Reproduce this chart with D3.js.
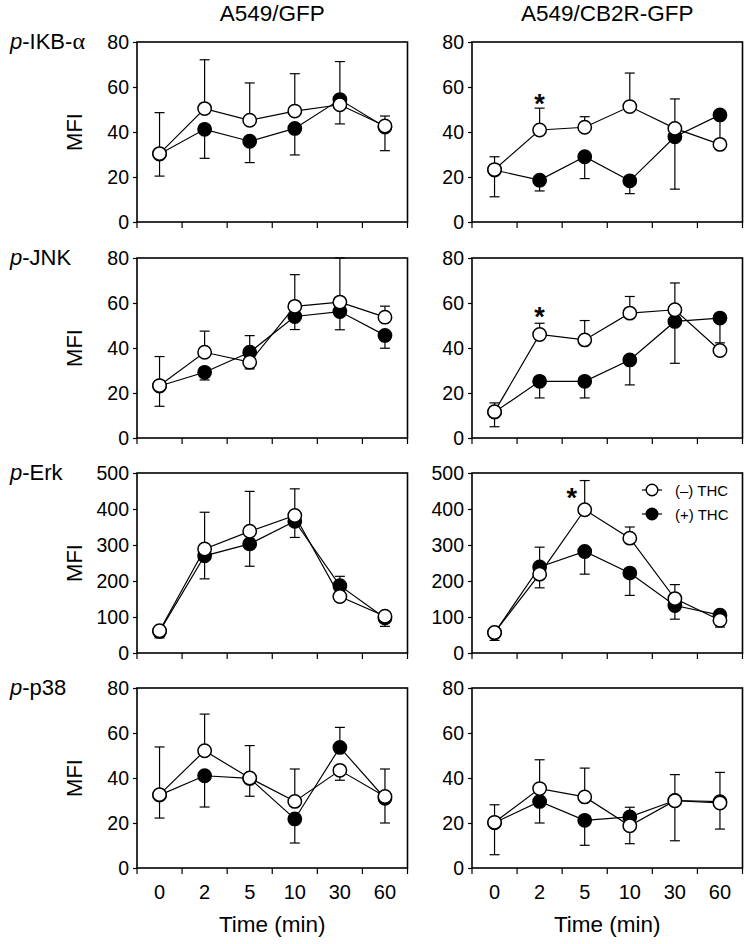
<!DOCTYPE html>
<html>
<head>
<meta charset="utf-8">
<script src="https://cdn.jsdelivr.net/npm/d3@7"></script>
<style>
  html, body { margin: 0; padding: 0; background: #fff; }
  svg { display: block; font-family: Arial, "Liberation Sans", Helvetica, sans-serif; }
</style>
</head>
<body>
<svg id="chart" width="750" height="944"></svg>
<script>
// ---------------- DATA ----------------
const times = ["0", "2", "5", "10", "30", "60"];
const columnTitles = ["A549/GFP", "A549/CB2R-GFP"];
const rowProteins = ["IKB-α", "JNK", "Erk", "p38"];
const rowMax = [80, 80, 500, 80];
const rowTickStep = [20, 20, 100, 20];
const legendLabels = ["(–) THC", "(+) THC"];

// p-IKB-α, A549/GFP
const ikbGfpMinus    = [30.4, 50.4, 45.2, 49.3, 52.1, 42.7];
const ikbGfpMinusBar = [48.6, 72.1, 61.8, 65.9, 43.6, 47.1];
const ikbGfpPlus     = [30.2, 41.2, 35.9, 41.6, 54.4, 42.2];
const ikbGfpPlusBar  = [20.4, 28.3, 26.4, 29.8, 71.3, 31.7];
// p-IKB-α, A549/CB2R-GFP
const ikbCb2Minus    = [23.3, 40.9, 42.1, 51.3, 41.6, 34.5];
const ikbCb2MinusBar = [29.0, 50.6, 46.8, 66.2, 54.7, null];
const ikbCb2Plus     = [23.1, 18.6, 29.0, 18.3, 37.9, 47.6];
const ikbCb2PlusBar  = [11.2, 13.8, 19.3, 12.6, 14.6, 36.0];

// p-JNK, A549/GFP
const jnkGfpMinus    = [23.3, 38.1, 33.7, 58.5, 60.4, 53.7];
const jnkGfpMinusBar = [36.2, 47.5, 30.7, 72.6, 80.0, 58.6];
const jnkGfpPlus     = [23.1, 29.2, 38.1, 54.0, 56.2, 45.6];
const jnkGfpPlusBar  = [14.1, 25.8, 45.5, 48.2, 48.1, 39.9];
// p-JNK, A549/CB2R-GFP
const jnkCb2Minus    = [11.7, 46.0, 43.6, 55.5, 57.0, 38.9];
const jnkCb2MinusBar = [15.6, 51.0, 52.2, 62.9, 68.9, null];
const jnkCb2Plus     = [11.5, 25.2, 25.2, 34.7, 51.8, 53.3];
const jnkCb2PlusBar  = [5.0, 17.8, 17.8, 23.6, 33.2, 42.3];

// p-Erk, A549/GFP
const erkGfpMinus    = [62, 289, 338, 382, 157, 102];
const erkGfpMinusBar = [null, 391, 449, 456, null, null];
const erkGfpPlus     = [60, 270, 303, 366, 187, 97];
const erkGfpPlusBar  = [42, 206, 241, 321, 213, 74];
// p-Erk, A549/CB2R-GFP
const erkCb2Minus    = [57, 219, 398, 319, 151, 91];
const erkCb2MinusBar = [35, 181, 479, 350, 190, 72];
const erkCb2Plus     = [56, 239, 282, 222, 132, 105];
const erkCb2PlusBar  = [null, 294, 219, 160, 94, null];

// p-p38, A549/GFP
const p38GfpMinus    = [32.6, 52.1, 40.0, 29.6, 43.4, 31.8];
const p38GfpMinusBar = [53.8, 68.4, 54.4, 44.0, 39.0, 44.0];
const p38GfpPlus     = [32.4, 41.0, 39.8, 21.8, 53.6, 31.0];
const p38GfpPlusBar  = [22.2, 27.1, 31.9, 11.1, 62.5, 20.0];
// p-p38, A549/CB2R-GFP
const p38Cb2Minus    = [20.3, 35.3, 31.6, 18.8, 29.9, 28.9];
const p38Cb2MinusBar = [28.1, 48.1, 44.4, 10.8, 41.5, 42.5];
const p38Cb2Plus     = [20.1, 29.6, 21.2, 22.7, 30.0, 29.5];
const p38Cb2PlusBar  = [5.9, 20.0, 10.1, 27.0, 12.1, 17.3];

// significance stars: [row, col, time, value at star centre]
const stars = [[0, 1, "2", 55.6], [1, 1, "2", 56.7], [2, 1, "5", 449]];

// ---------------- LAYOUT ----------------
const panels = [
  [[ikbGfpMinus, ikbGfpMinusBar, ikbGfpPlus, ikbGfpPlusBar], [ikbCb2Minus, ikbCb2MinusBar, ikbCb2Plus, ikbCb2PlusBar]],
  [[jnkGfpMinus, jnkGfpMinusBar, jnkGfpPlus, jnkGfpPlusBar], [jnkCb2Minus, jnkCb2MinusBar, jnkCb2Plus, jnkCb2PlusBar]],
  [[erkGfpMinus, erkGfpMinusBar, erkGfpPlus, erkGfpPlusBar], [erkCb2Minus, erkCb2MinusBar, erkCb2Plus, erkCb2PlusBar]],
  [[p38GfpMinus, p38GfpMinusBar, p38GfpPlus, p38GfpPlusBar], [p38Cb2Minus, p38Cb2MinusBar, p38Cb2Plus, p38Cb2PlusBar]]
];

const colX = [137, 472];
const panelW = 270.5;
const rowY = [42, 258, 473, 688];
const panelH = 180;
const R = 6.7;
const capW = 10;

const svg = d3.select("#chart");

// column titles
columnTitles.forEach((t, c) => {
  svg.append("text")
    .attr("x", colX[c] + panelW / 2)
    .attr("y", 21)
    .attr("text-anchor", "middle")
    .attr("font-size", 22.5)
    .text(t);
});

rowProteins.forEach((prot, r) => {
  const y = d3.scaleLinear().domain([0, rowMax[r]]).range([rowY[r] + panelH, rowY[r]]);
  const yTicks = d3.range(0, rowMax[r] + 1, rowTickStep[r]);

  // row label
  const lab = svg.append("text")
    .attr("x", 10)
    .attr("y", rowY[r] + 7)
    .attr("font-size", 22);
  lab.append("tspan").attr("font-style", "italic").text("p");
  if (prot === "IKB-α") {
    lab.append("tspan").text("-IKB-");
    lab.append("tspan").attr("font-family", "'Liberation Serif', 'Times New Roman', serif").attr("font-size", 24).text("α");
  } else {
    lab.append("tspan").text("-" + prot);
  }

  // MFI label
  svg.append("text")
    .attr("transform", `translate(82,${rowY[r] + panelH / 2}) rotate(-90)`)
    .attr("text-anchor", "middle")
    .attr("font-size", 22)
    .text("MFI");

  [0, 1].forEach(c => {
    const [minus, minusBar, plus, plusBar] = panels[r][c];
    const x = d3.scaleBand().domain(times).range([colX[c], colX[c] + panelW]).padding(0);
    const cx = t => x(t) + x.bandwidth() / 2;
    const g = svg.append("g");

    // y axis
    const yAxis = d3.axisLeft(y).tickValues(yTicks).tickSize(4).tickPadding(4).tickFormat(d3.format("d"));
    const ya = g.append("g").attr("transform", `translate(${colX[c]},0)`).call(yAxis);
    ya.select(".domain").remove();
    ya.selectAll("text").attr("font-size", 19.5).attr("font-family", "Arial, 'Liberation Sans', sans-serif").attr("fill", "#000");
    ya.selectAll("line").attr("stroke", "#000").attr("stroke-width", 1.2);

    // x tick marks at category boundaries
    const bounds = times.map(t => x(t)).concat([colX[c] + panelW]);
    g.selectAll("line.xt").data(bounds).join("line")
      .attr("x1", d => d).attr("x2", d => d)
      .attr("y1", rowY[r] + panelH).attr("y2", rowY[r] + panelH + 6)
      .attr("stroke", "#000").attr("stroke-width", 1.2);

    // x tick labels on bottom row
    if (r === rowProteins.length - 1) {
      g.selectAll("text.xl").data(times).join("text")
        .attr("x", d => cx(d))
        .attr("y", rowY[r] + panelH + 31)
        .attr("text-anchor", "middle")
        .attr("font-size", 20)
        .text(d => d);
      g.append("text")
        .attr("x", colX[c] + panelW / 2)
        .attr("y", 932)
        .attr("text-anchor", "middle")
        .attr("font-size", 22.5)
        .text("Time (min)");
    }

    // frame
    g.append("rect")
      .attr("x", colX[c]).attr("y", rowY[r])
      .attr("width", panelW).attr("height", panelH)
      .attr("fill", "none").attr("stroke", "#000").attr("stroke-width", 1.6);

    // error bars
    const drawBars = (vals, ends) => {
      times.forEach((t, i) => {
        if (ends[i] === null) return;
        const xx = cx(t);
        g.append("line").attr("x1", xx).attr("x2", xx)
          .attr("y1", y(vals[i])).attr("y2", y(ends[i]))
          .attr("stroke", "#000").attr("stroke-width", 1.2);
        g.append("line").attr("x1", xx - capW / 2).attr("x2", xx + capW / 2)
          .attr("y1", y(ends[i])).attr("y2", y(ends[i]))
          .attr("stroke", "#000").attr("stroke-width", 1.2);
      });
    };
    drawBars(plus, plusBar);
    drawBars(minus, minusBar);

    const line = d3.line().x((d, i) => cx(times[i])).y(d => y(d));
    // (+) THC series (filled)
    g.append("path").attr("d", line(plus)).attr("fill", "none").attr("stroke", "#000").attr("stroke-width", 1.2);
    // (–) THC series (open)
    g.append("path").attr("d", line(minus)).attr("fill", "none").attr("stroke", "#000").attr("stroke-width", 1.2);

    g.selectAll("circle.p").data(plus).join("circle")
      .attr("cx", (d, i) => cx(times[i])).attr("cy", d => y(d)).attr("r", R)
      .attr("fill", "#000").attr("stroke", "#000").attr("stroke-width", 1.4);
    g.selectAll("circle.m").data(minus).join("circle")
      .attr("cx", (d, i) => cx(times[i])).attr("cy", d => y(d)).attr("r", R)
      .attr("fill", "#fff").attr("stroke", "#000").attr("stroke-width", 1.5);

    // stars
    stars.filter(s => s[0] === r && s[1] === c).forEach(s => {
      const sx = cx(s[2]) + (s[3] > rowMax[r] * 0.85 ? -13 : 0);
      svg.append("text")
        .attr("x", sx)
        .attr("y", y(s[3]) + 16)
        .attr("text-anchor", "middle")
        .attr("font-size", 27)
        .attr("font-weight", "bold")
        .text("*");
    });

    // legend in p-Erk CB2R panel
    if (r === 2 && c === 1) {
      const lg = svg.append("g");
      legendLabels.forEach((lbl, k) => {
        const ly = 490 + k * 24;
        lg.append("line").attr("x1", 642).attr("x2", 662).attr("y1", ly).attr("y2", ly)
          .attr("stroke", "#000").attr("stroke-width", 1.2);
        lg.append("circle").attr("cx", 652).attr("cy", ly).attr("r", 5.8)
          .attr("fill", k === 0 ? "#fff" : "#000").attr("stroke", "#000").attr("stroke-width", 1.4);
        lg.append("text").attr("x", 675).attr("y", ly + 5.5).attr("font-size", 15).text(lbl);
      });
    }
  });
});
</script>
</body>
</html>
